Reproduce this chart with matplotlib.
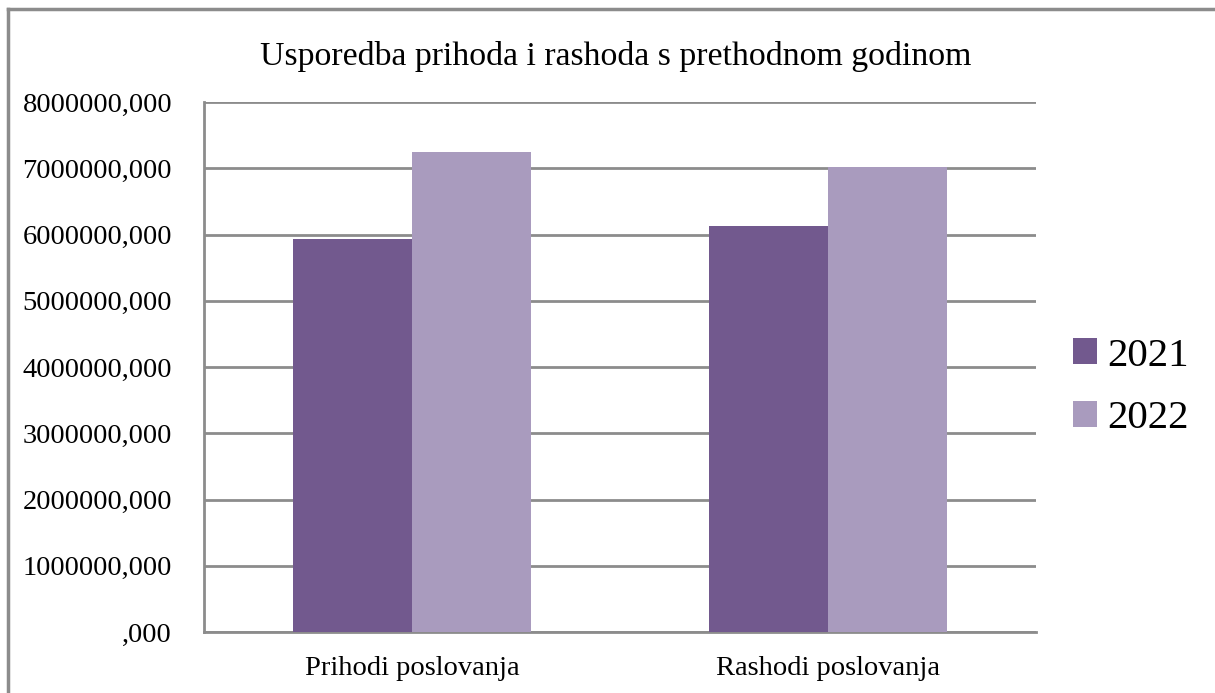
import matplotlib.pyplot as plt
from matplotlib.lines import Line2D
from matplotlib.ticker import FuncFormatter
import numpy as np

categories = ["Prihodi poslovanja", "Rashodi poslovanja"]
years = ["2021", "2022"]
values_2021 = [5930000, 6130000]
values_2022 = [7245000, 7015000]

plt.rcParams["font.family"] = ["Liberation Serif", "DejaVu Serif"]

fig = plt.figure(figsize=(12.15, 6.93), dpi=100)
ax = fig.add_axes([0.1679, 0.0880, 0.6848, 0.7648])

x = np.arange(len(categories)) + 0.5
w = 0.286
b1 = ax.bar(x - w / 2, values_2021, width=w, color="#72598e", label=years[0], zorder=3)
b2 = ax.bar(x + w / 2, values_2022, width=w, color="#a99bbe", label=years[1], zorder=3)

ax.set_xlim(0, 2)
ax.set_ylim(0, 8000000)
ax.set_yticks(np.arange(0, 8000001, 1000000))
ax.yaxis.set_major_formatter(FuncFormatter(lambda v, p: ("%d" % v if v else "") + ",000"))
ax.set_xticks(x)
ax.set_xticklabels(categories)
ax.tick_params(axis="y", length=0, labelsize=20.5, pad=23)
ax.tick_params(axis="x", length=0, labelsize=20.5, pad=17)
ax.grid(axis="y", color="#8c8c8c", linewidth=2, zorder=0)
for s in ["top", "right"]:
    ax.spines[s].set_visible(False)
for s in ["left", "bottom"]:
    ax.spines[s].set_color("#8c8c8c")
    ax.spines[s].set_linewidth(2)

fig.text(0.507, 0.918, "Usporedba prihoda i rashoda s prethodnom godinom",
         ha="center", va="center", fontsize=24.3)

fig.legend(handles=[b1, b2], loc="center left", bbox_to_anchor=(0.866, 0.441),
           frameon=False, fontsize=29.5, handlelength=0.6, handleheight=0.6,
           handletextpad=0.25, labelspacing=0.62, borderpad=0)

# outer frame (top and left edges)
fig.add_artist(Line2D([0.0066, 1.0], [0.9863, 0.9863], color="#8c8c8c", linewidth=2.5))
fig.add_artist(Line2D([0.0066, 0.0066], [0.0, 0.9863], color="#8c8c8c", linewidth=2.5))

fig.savefig("out.png", dpi=100)
